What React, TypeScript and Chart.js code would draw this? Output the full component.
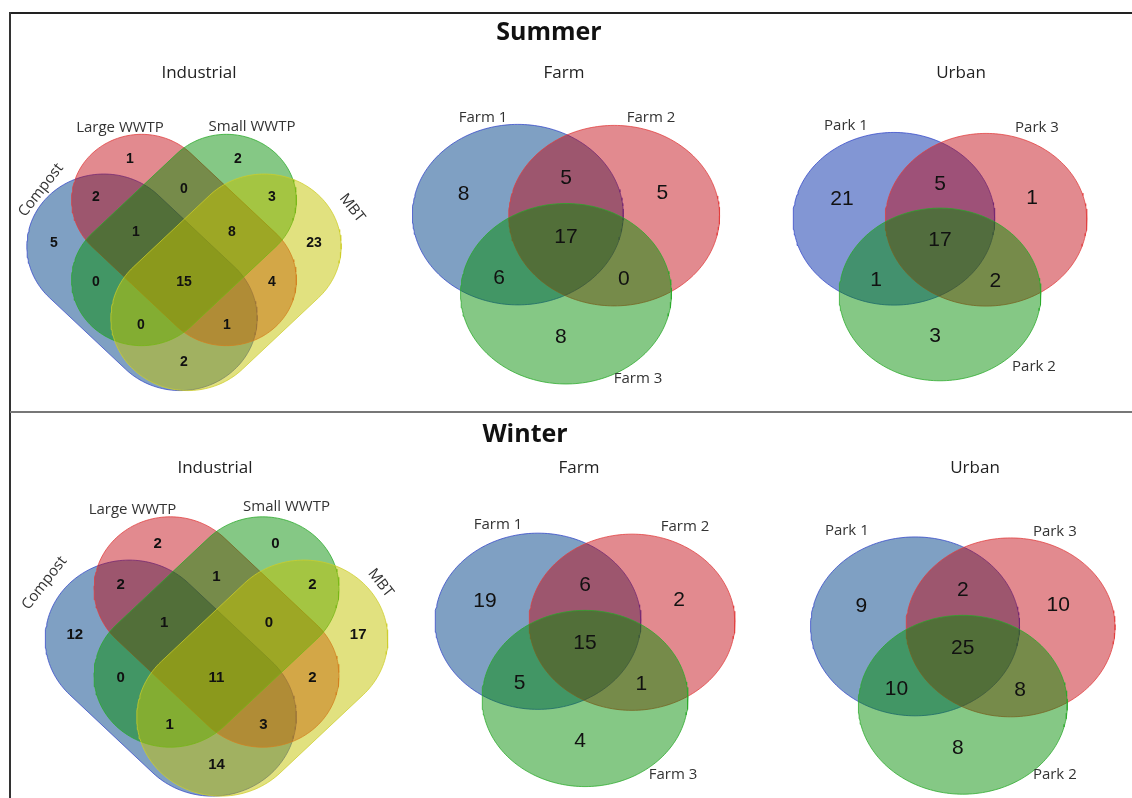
import React, { useEffect, useRef } from "react";
import { Chart, registerables } from "chart.js";

Chart.register(...registerables);

// ---------- DATA ----------
const seasons = ["Summer", "Winter"];
const siteTypes = ["Industrial", "Farm", "Urban"];
const industrialSets = ["Compost", "Large WWTP", "Small WWTP", "MBT"];
const farmSets = ["Farm 1", "Farm 2", "Farm 3"];
const urbanSets = ["Park 1", "Park 3", "Park 2"];
// 4-set regions: C, L, S, M, CL, CS, CM, LS, LM, SM, CLS, CLM, CSM, LSM, CLSM
const industrialSummer = [5, 1, 2, 23, 2, 0, 2, 0, 4, 3, 1, 1, 0, 8, 15];
const industrialWinter = [12, 2, 0, 17, 2, 0, 14, 1, 2, 2, 1, 3, 1, 0, 11];
// 3-set regions: A, B, C, AB, AC, BC, ABC
const farmSummer = [8, 5, 8, 5, 6, 0, 17];
const farmWinter = [19, 2, 4, 6, 5, 1, 15];
const urbanSummer = [21, 1, 3, 5, 1, 2, 17];
const urbanWinter = [9, 10, 8, 2, 10, 8, 25];

// ---------- LAYOUT ----------
const W = 1132;
const H = 798;
type Shape = { kind: "stadium" | "ellipse"; cx: number; cy: number; a: number; b: number; rot: number };
// stadium: a = half straight length, b = cap radius
const QUAD_SHAPES: Shape[] = [
  { kind: "stadium", cx: -42, cy: 45, a: 54, b: 77, rot: 45 },
  { kind: "stadium", cx: 0, cy: 0, a: 60, b: 70, rot: 45 },
  { kind: "stadium", cx: 0, cy: 0, a: 60, b: 70, rot: -45 },
  { kind: "stadium", cx: 42, cy: 45, a: 54, b: 77, rot: -45 },
];
const QUAD_Q = 0.94;
const QUAD_REGION_POS = [
  [-130, 3], [-54, -81], [54, -81], [130, 3],
  [-88, -43], [-88, 42], [0, 122], [0, -51], [88, 42], [88, -43],
  [-48, -8], [43, 85], [-43, 85], [48, -8], [0, 42],
];
const TRI_SHAPES: Shape[] = [
  { kind: "ellipse", cx: -47.5, cy: -26, a: 104, b: 89, rot: 0 },
  { kind: "ellipse", cx: 47.5, cy: -25, a: 104, b: 89, rot: 0 },
  { kind: "ellipse", cx: 0, cy: 52, a: 104, b: 89, rot: 0 },
];
const TRI_REGION_POS = [
  [-101, -46], [95, -47], [-5, 95], [0, -62], [-66, 37], [57, 38], [0, -4],
];

const BLUE = "rgba(0,65,135,0.5)";
const BLUE2 = "rgba(5,45,170,0.5)";
const RED = "rgba(192,0,10,0.46)";
const GREEN = "rgba(0,140,0,0.48)";
const YELLOW = "rgba(195,195,0,0.5)";
const BLUE_L = "rgba(50,70,200,0.75)";
const RED_L = "rgba(225,60,60,0.75)";
const GREEN_L = "rgba(40,170,40,0.75)";
const YELLOW_L = "rgba(205,205,40,0.75)";

type Panel = {
  kind: "quad" | "tri";
  ox: number;
  oy: number;
  k: number;
  counts: number[];
  sets: string[];
  fills: string[];
  lines: string[];
  setPos: number[][];
  setRot: number[];
  numFont: string;
  title: string;
  titlePos: number[];
};

const panels: Panel[] = [
  {
    kind: "quad", ox: 184, oy: 240, k: 1, counts: industrialSummer, sets: industrialSets,
    fills: [BLUE, RED, GREEN, YELLOW], lines: [BLUE_L, RED_L, GREEN_L, YELLOW_L],
    setPos: [[-143, -50], [-64, -112], [68, -113], [168, -32]], setRot: [-52, 0, 0, 52],
    numFont: "bold 14px 'Liberation Sans', Arial, sans-serif", title: siteTypes[0], titlePos: [199, 73],
  },
  {
    kind: "tri", ox: 566, oy: 241, k: 1.014, counts: farmSummer, sets: farmSets,
    fills: [BLUE, RED, GREEN], lines: [BLUE_L, RED_L, GREEN_L],
    setPos: [[-83, -123], [85, -123], [72, 138]], setRot: [0, 0, 0],
    numFont: "21px 'Liberation Sans', Arial, sans-serif", title: siteTypes[1], titlePos: [564, 73],
  },
  {
    kind: "tri", ox: 940, oy: 244, k: 0.97, counts: urbanSummer, sets: urbanSets,
    fills: [BLUE2, RED, GREEN], lines: [BLUE_L, RED_L, GREEN_L],
    setPos: [[-94, -118], [97, -116], [94, 123]], setRot: [0, 0, 0],
    numFont: "21px 'Liberation Sans', Arial, sans-serif", title: siteTypes[2], titlePos: [961, 73],
  },
  {
    kind: "quad", ox: 216.5, oy: 632, k: 1.09, counts: industrialWinter, sets: industrialSets,
    fills: [BLUE, RED, GREEN, YELLOW], lines: [BLUE_L, RED_L, GREEN_L, YELLOW_L],
    setPos: [[-172, -49], [-84, -122], [70, -125], [164, -49]], setRot: [-52, 0, 0, 52],
    numFont: "bold 15px 'Liberation Sans', Arial, sans-serif", title: siteTypes[0], titlePos: [215, 468],
  },
  {
    kind: "tri", ox: 585, oy: 647, k: 0.99, counts: farmWinter, sets: farmSets,
    fills: [BLUE, RED, GREEN], lines: [BLUE_L, RED_L, GREEN_L],
    setPos: [[-87, -122], [100, -120], [88, 128]], setRot: [0, 0, 0],
    numFont: "21px 'Liberation Sans', Arial, sans-serif", title: siteTypes[1], titlePos: [579, 468],
  },
  {
    kind: "tri", ox: 962.8, oy: 652.5, k: 1.005, counts: urbanWinter, sets: urbanSets,
    fills: [BLUE, RED, GREEN], lines: [BLUE_L, RED_L, GREEN_L],
    setPos: [[-116, -122], [92, -121], [92, 122]], setRot: [0, 0, 0],
    numFont: "21px 'Liberation Sans', Arial, sans-serif", title: siteTypes[2], titlePos: [975, 468],
  },
];
const seasonTitlePos = [[549, 33], [525, 435]];

function outlinePoints(p: Panel, s: Shape) {
  const q = p.kind === "quad" ? QUAD_Q : 1;
  const r = (s.rot * Math.PI) / 180;
  const c = Math.cos(r);
  const sn = Math.sin(r);
  const local: number[][] = [];
  if (s.kind === "ellipse") {
    const n = 200;
    for (let i = 0; i <= n; i++) {
      const t = (2 * Math.PI * i) / n;
      local.push([s.a * Math.cos(t), s.b * Math.sin(t)]);
    }
  } else {
    const n = 80;
    for (let i = 0; i <= n; i++) {
      const t = -Math.PI / 2 + (Math.PI * i) / n;
      local.push([s.a + s.b * Math.cos(t), s.b * Math.sin(t)]);
    }
    for (let i = 0; i <= n; i++) {
      const t = Math.PI / 2 + (Math.PI * i) / n;
      local.push([-s.a + s.b * Math.cos(t), s.b * Math.sin(t)]);
    }
    local.push(local[0]);
  }
  return local.map(([u, v]) => {
    const lx = s.cx + u * c - v * sn;
    const ly = s.cy + u * sn + v * c;
    return { x: p.ox + p.k * lx, y: p.oy + p.k * q * ly };
  });
}

type TextItem = { x: number; y: number; text: string; font: string; color: string; rot?: number };

export default function App() {
  const ref = useRef<HTMLCanvasElement | null>(null);

  useEffect(() => {
    if (!ref.current) return;
    const datasets: any[] = [];
    const texts: TextItem[] = [];
    let drawIdx = 0;
    panels.forEach((p) => {
      const shapes = p.kind === "quad" ? QUAD_SHAPES : TRI_SHAPES;
      const regionPos = p.kind === "quad" ? QUAD_REGION_POS : TRI_REGION_POS;
      shapes.forEach((s, i) => {
        datasets.push({
          type: "line",
          label: p.sets[i],
          data: outlinePoints(p, s),
          backgroundColor: p.fills[i],
          borderColor: p.lines[i],
          borderWidth: 1,
          pointRadius: 0,
          tension: 0,
          fill: "shape",
          order: 1000 - drawIdx++,
        });
      });
      p.counts.forEach((v, i) => {
        texts.push({
          x: p.ox + p.k * regionPos[i][0],
          y: p.oy + p.k * regionPos[i][1],
          text: String(v),
          font: p.numFont,
          color: "#111",
        });
      });
      p.sets.forEach((name, i) => {
        texts.push({
          x: p.ox + p.setPos[i][0],
          y: p.oy + p.setPos[i][1],
          text: name,
          font: "15px 'Open Sans', sans-serif",
          color: "#333",
          rot: p.setRot[i],
        });
      });
      texts.push({
        x: p.titlePos[0],
        y: p.titlePos[1],
        text: p.title,
        font: "17px 'Open Sans', sans-serif",
        color: "#222",
      });
    });
    seasons.forEach((s, i) => {
      texts.push({
        x: seasonTitlePos[i][0],
        y: seasonTitlePos[i][1],
        text: s,
        font: "bold 25px 'Open Sans', sans-serif",
        color: "#111",
      });
    });

    const textPlugin = {
      id: "vennText",
      afterDatasetsDraw(chart: any) {
        const ctx = chart.ctx;
        const xs = chart.scales.x;
        const ys = chart.scales.y;
        for (const t of texts) {
          ctx.save();
          ctx.translate(xs.getPixelForValue(t.x), ys.getPixelForValue(t.y));
          if (t.rot) ctx.rotate((t.rot * Math.PI) / 180);
          ctx.font = t.font;
          ctx.fillStyle = t.color;
          ctx.textAlign = "center";
          ctx.textBaseline = "middle";
          ctx.fillText(t.text, 0, 0);
          ctx.restore();
        }
      },
    };

    const chart = new Chart(ref.current, {
      type: "line",
      data: { datasets },
      options: {
        animation: false,
        responsive: false,
        layout: { padding: 0 },
        scales: {
          x: { type: "linear", min: 0, max: W, display: false },
          y: { type: "linear", min: 0, max: H, reverse: true, display: false },
        },
        plugins: { legend: { display: false }, tooltip: { enabled: false } },
        events: [],
      },
      plugins: [textPlugin],
    } as any);
    return () => chart.destroy();
  }, []);

  return (
    <div style={{ position: "absolute", left: 0, top: 0, width: W, height: H, background: "#fff", overflow: "hidden" }}>
      <canvas ref={ref} width={W} height={H} style={{ position: "absolute", left: 0, top: 0, width: W, height: H }} />
      <div style={{ position: "absolute", left: 10, top: 12, width: W - 10, height: 2, background: "#222" }} />
      <div style={{ position: "absolute", left: 9, top: 12, width: 2, height: H - 12, background: "#333" }} />
      <div style={{ position: "absolute", left: 10, top: 411, width: W - 10, height: 2, background: "#777" }} />
    </div>
  );
}
